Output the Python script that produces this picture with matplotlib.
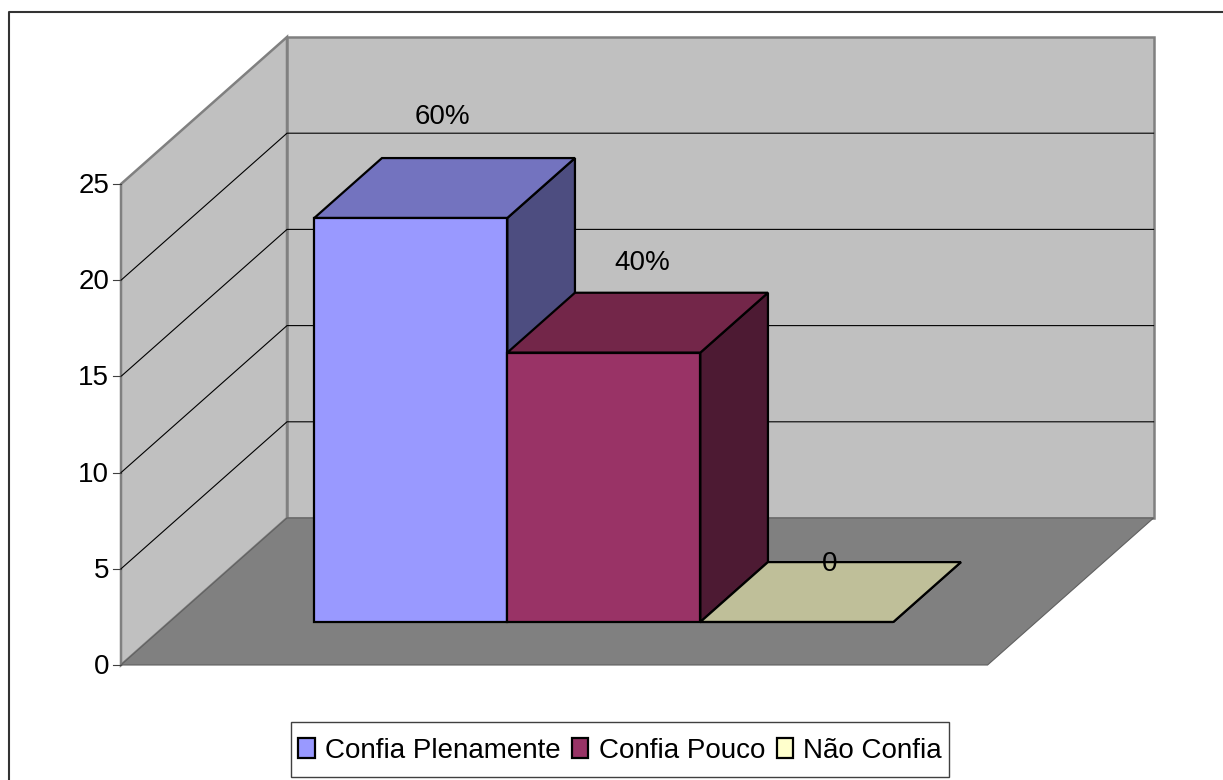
import matplotlib
matplotlib.use("Agg")
import matplotlib.pyplot as plt
from matplotlib.patches import Polygon, Patch, Rectangle

plt.rcParams['font.family'] = ['Liberation Sans', 'DejaVu Sans']

# data
categories = ["Confia Plenamente", "Confia Pouco", "Não Confia"]
values = [21, 14, 0]
value_labels = ["60%", "40%", "0"]
y_ticks = [0, 5, 10, 15, 20, 25]
colors = ["#9999FF", "#993366", "#FFFFCC"]
top_colors = ["#7373BF", "#732649", "#BFBF99"]
side_colors = ["#4D4D80", "#4D1A33", "#808066"]

# projection of the fake 3d box, in pixels
X0, Y0 = 121, 665
UNIT_X, UNIT_Y = 193, 19.24
DEPTH_X, DEPTH_Y = 166, 147
N_UNITS = 4.49
BAR_START = 0.75
D_FRONT, D_BACK = 0.293, 0.70
label_dx = [-2, 5, -1]
label_dy = [0, -2, 2]


def proj(x, v, d):
    return (X0 + x * UNIT_X + d * DEPTH_X, Y0 - v * UNIT_Y - d * DEPTH_Y)


def face(ax, pts, fc, ec="black", lw=1.6, z=2):
    ax.add_patch(Polygon(pts, closed=True, facecolor=fc, edgecolor=ec, linewidth=lw, zorder=z, joinstyle="miter"))


fig = plt.figure(figsize=(12.23, 7.8), dpi=100)
ax = fig.add_axes([0, 0, 1, 1])
ax.set_xlim(0, 1223)
ax.set_ylim(780, 0)
ax.axis("off")

# outer frame, only left and top are visible in the crop
ax.plot([9, 9, 1223], [780, 12, 12], color="#333333", lw=1.5, zorder=1)

# walls and floor
top = y_ticks[-1]
face(ax, [proj(0, 0, 0), proj(0, top, 0), proj(0, top, 1), proj(0, 0, 1)], "#C0C0C0", ec="#808080", lw=1.8)
face(ax, [proj(0, 0, 1), proj(0, top, 1), proj(N_UNITS, top, 1), proj(N_UNITS, 0, 1)], "#C0C0C0", ec="#808080", lw=1.8)

for t in y_ticks:
    px, py = proj(0, t, 0)
    ax.plot([px - 8, px], [py, py], color="#404040", lw=0.8, zorder=3)
    ax.text(px - 12, py + 2, str(t), ha="right", va="center", fontsize=20, color="black")
    if 0 < t < top:
        pts = [proj(0, t, 0), proj(0, t, 1), proj(N_UNITS, t, 1)]
        ax.plot([p[0] for p in pts], [p[1] for p in pts], color="black", lw=0.8, zorder=2)

face(ax, [proj(0, 0, 0), proj(0, 0, 1), proj(N_UNITS, 0, 1), proj(N_UNITS, 0, 0)], "#808080", ec="#606060", lw=0.8, z=3)

# bars, back faces get painted over by the next bar
for i, v in enumerate(values):
    x1 = BAR_START + i
    x2 = x1 + 1
    z = 4 + i
    face(ax, [proj(x1, 0, D_FRONT), proj(x1, v, D_FRONT), proj(x2, v, D_FRONT), proj(x2, 0, D_FRONT)], colors[i], z=z)
    face(ax, [proj(x2, 0, D_FRONT), proj(x2, v, D_FRONT), proj(x2, v, D_BACK), proj(x2, 0, D_BACK)], side_colors[i], z=z)
    face(ax, [proj(x1, v, D_FRONT), proj(x1, v, D_BACK), proj(x2, v, D_BACK), proj(x2, v, D_FRONT)], top_colors[i], z=z)

for i, v in enumerate(values):
    lx, ly = proj(BAR_START + i + 0.5, v, (D_FRONT + D_BACK) / 2)
    ax.text(lx + label_dx[i], ly - 30 - 1.95 * v + label_dy[i], value_labels[i], ha="center", va="center", fontsize=20, color="black", zorder=10)

# legend, box drawn separately so its height can differ from the text padding
ax.add_patch(Rectangle((291, 722), 658, 55, facecolor="white", edgecolor="#404040", linewidth=1.0, zorder=11))
handles = [Patch(facecolor=c, edgecolor="black", linewidth=1.6) for c in colors]
leg = ax.legend(handles, categories, ncol=3, loc="center", bbox_to_anchor=(620 / 1223, 1 - 750.5 / 780),
                fontsize=20, frameon=False,
                handlelength=0.58, handleheight=0.72, handletextpad=0.37, columnspacing=0.42,
                borderpad=0, borderaxespad=0)
leg.set_zorder(12)

fig.savefig("out.png", dpi=100)
